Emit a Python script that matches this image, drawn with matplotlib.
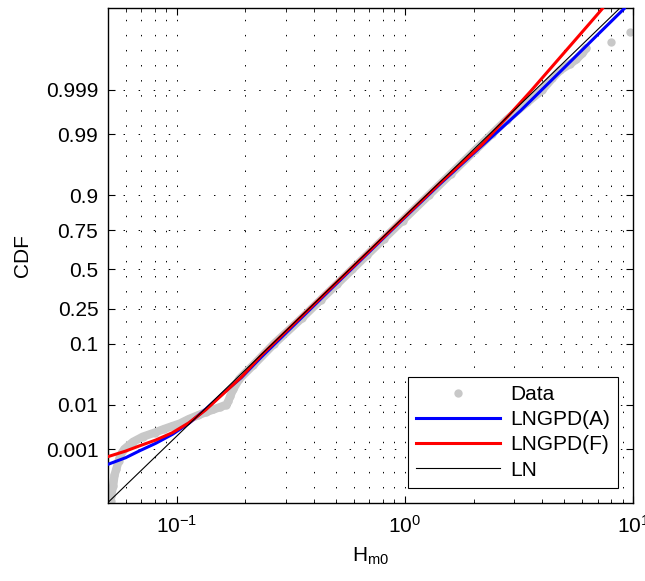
import numpy as np
import matplotlib
matplotlib.use('Agg')
import matplotlib.pyplot as plt
from matplotlib.ticker import FixedLocator, FixedFormatter, LogLocator, NullLocator
from statistics import NormalDist

fs = 15
plt.rc('font', family=['Liberation Sans', 'DejaVu Sans'])
plt.rc('mathtext', default='regular')

data_x = [0.0513, 0.0516, 0.0527, 0.0534, 0.0544, 0.0557, 0.0567, 0.0590, 0.0643,
          0.0710, 0.0801, 0.0877, 0.0955, 0.1031, 0.1128, 0.1235, 0.1338, 0.145,
          0.1556, 0.1653, 0.1687, 0.1721, 0.1774, 0.1884, 0.2167, 0.2668, 0.3525,
          0.4272, 0.5038, 0.587, 0.684, 0.8064, 0.977, 1.276, 1.590, 2.034, 2.399,
          2.792, 3.444, 4.005, 4.43, 4.80, 5.31, 5.64, 5.99, 6.24, 8.02, 9.70]
data_p = [3.5e-5, 5e-5, 1e-4, 2e-4, 3e-4, 5e-4, 7e-4, 1e-3, 1.5e-3,
          2e-3, 2.5e-3, 3e-3, 3.5e-3, 4e-3, 5e-3, 6e-3, 7e-3, 8e-3,
          9e-3, 0.01, 0.012, 0.015, 0.02, 0.03, 0.05, 0.1, 0.2,
          0.3, 0.4, 0.5, 0.6, 0.7, 0.8, 0.9, 0.95, 0.98, 0.99,
          0.995, 0.998, 0.999, 0.9995, 0.9997, 0.9998, 0.99985, 0.9999, 0.99993,
          0.999954, 0.9999774]
n_band = 46  # the last two points are isolated

# LNGPD fit, method A
a_x = [0.050, 0.0598, 0.0684, 0.0810, 0.0958, 0.1132, 0.1338, 0.1609, 0.1922,
       0.2350, 0.4753, 0.9606, 1.436, 2.147, 2.626, 3.211, 4.80, 7.18, 9.14]
a_p = [4.0e-4, 6.0e-4, 8.9e-4, 1.39e-3, 2.28e-3, 4.06e-3, 8.06e-3, 0.0170, 0.0315,
       0.0660, 0.370, 0.797, 0.931, 0.98250, 0.99220, 0.99684, 0.999670,
       0.9999778, 0.9999964]

# LNGPD fit, method F
f_x = [0.050, 0.0598, 0.0684, 0.0810, 0.0958, 0.1132, 0.1338, 0.1609, 0.1922,
       0.2350, 0.4753, 0.9606, 1.436, 2.147, 2.761, 3.549, 4.80, 6.49, 7.34]
f_p = [6.4e-4, 8.9e-4, 1.19e-3, 1.67e-3, 2.49e-3, 4.18e-3, 7.8e-3, 0.0166, 0.0322,
       0.0700, 0.377, 0.800, 0.933, 0.98325, 0.99520, 0.99890, 0.999871,
       0.9999891, 0.99999642]

# lognormal fit
ln_x = [0.05, 1.0, 10.0]
ln_p = [3.04e-5, 0.8215, 0.9999988]

ytick_p = [0.001, 0.01, 0.1, 0.25, 0.5, 0.75, 0.9, 0.99, 0.999]
ytick_lab = ['0.001', '0.01', '0.1', '0.25', '0.5', '0.75', '0.9', '0.99', '0.999']

nd = NormalDist()
_ppf = np.vectorize(nd.inv_cdf, otypes=[float])
_cdf = np.vectorize(nd.cdf, otypes=[float])


def fwd(p):
  p = np.asarray(p, dtype=float)
  p = np.where(np.isnan(p), 0.5, p)
  return _ppf(np.clip(p, 1e-15, 1 - 1e-15))


def inv(z):
  return _cdf(np.asarray(z, dtype=float))


fig = plt.figure(figsize=(6.45, 5.81), dpi=100)
ax = fig.add_axes([0.1674, 0.1351, 0.814, 0.8511])

ax.set_xscale('log')
ax.set_yscale('function', functions=(fwd, inv))

grey = '#c8c8c8'
ax.plot(data_x[:n_band], data_p[:n_band], '-', color=grey, lw=6,
        solid_capstyle='round', solid_joinstyle='round', zorder=2)
ax.plot(data_x, data_p, 'o', color=grey, ms=6, mec='none', label='Data', zorder=2)
ax.plot(a_x, a_p, '-', color='#0000ff', lw=2.2, label='LNGPD(A)', zorder=3)
ax.plot(f_x, f_p, '-', color='#ff0000', lw=2.2, label='LNGPD(F)', zorder=3)
ax.plot(ln_x, ln_p, '-', color='k', lw=0.8, label='LN', zorder=4)

ax.set_xlim(0.05, 10)
ax.set_ylim(nd.cdf(-4.01), nd.cdf(4.5))

ax.yaxis.set_major_locator(FixedLocator(ytick_p))
ax.yaxis.set_major_formatter(FixedFormatter(ytick_lab))
ax.yaxis.set_minor_locator(NullLocator())
ax.xaxis.set_major_locator(LogLocator(base=10, numticks=10))
ax.xaxis.set_minor_locator(LogLocator(base=10, subs=np.arange(2, 10), numticks=20))

ax.tick_params(which='both', direction='in', top=True, right=True, labelsize=fs)
ax.tick_params(which='major', length=5, width=0.8)
ax.tick_params(which='minor', length=3, width=0.6)
ax.tick_params(axis='y', pad=7)
ax.tick_params(axis='x', pad=9)

dots = (0, (1.5, 14))
ax.grid(True, which='both', axis='x', color='k', lw=0.7, linestyle=dots)
ax.grid(True, which='major', axis='y', color='k', lw=0.7, linestyle=dots)
ax.set_axisbelow(True)
for s in ax.spines.values():
  s.set_linewidth(1.0)

ax.set_xlabel('H$_{m0}$', fontsize=fs, labelpad=6)
ax.set_ylabel('CDF', fontsize=fs, labelpad=10)

leg = ax.legend(loc='lower right', fontsize=fs, fancybox=False, framealpha=1,
                edgecolor='k', handlelength=4.0, handletextpad=0.5,
                labelspacing=0.3, borderpad=0.4, borderaxespad=0.7,
                markerscale=1.0)
leg.get_frame().set_linewidth(0.8)

fig.savefig('out.png', dpi=100)
